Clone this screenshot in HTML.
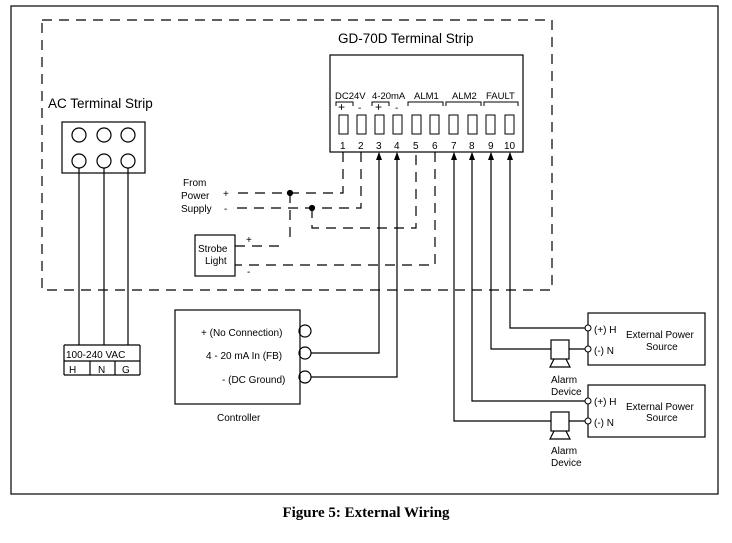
<!DOCTYPE html>
<html><head><style>body{margin:0;background:#fff}svg{display:block}</style></head><body>
<svg width="732" height="543" viewBox="0 0 732 543" xmlns="http://www.w3.org/2000/svg" font-family="Liberation Sans, sans-serif" fill="none" stroke="#000" stroke-width="1.2">
<rect x="11" y="6" width="707" height="488"/>
<rect x="42" y="20" width="510" height="270" stroke-dasharray="10,7"/>
<g fill="#000" stroke="none">
<text x="338" y="43" font-size="13.5">GD-70D Terminal Strip</text>
<text x="48" y="108" font-size="13.5">AC Terminal Strip</text>
<g font-size="10">
<text x="335" y="99" font-size="9.5">DC24V</text><text x="372" y="99" font-size="9.5">4-20mA</text><text x="414" y="99" font-size="9.5">ALM1</text><text x="452" y="99" font-size="9.5">ALM2</text><text x="486" y="99" font-size="9.5">FAULT</text>
<text x="338" y="111" font-size="12">+</text><text x="358" y="111">-</text><text x="375" y="111" font-size="12">+</text><text x="395" y="111">-</text>
<text x="340" y="149">1</text><text x="358" y="149">2</text><text x="376" y="149">3</text><text x="394" y="149">4</text><text x="413" y="149">5</text><text x="432" y="149">6</text><text x="451" y="149">7</text><text x="469" y="149">8</text><text x="488" y="149">9</text><text x="504" y="149">10</text>
<text x="183" y="186">From</text><text x="181" y="199">Power</text><text x="181" y="212">Supply</text>
<text x="223" y="197">+</text><text x="224" y="212">-</text>
<text x="198" y="252">Strobe</text><text x="205" y="264">Light</text>
<text x="246" y="243">+</text><text x="247" y="275">-</text>
<text x="201" y="336">+ (No Connection)</text><text x="206" y="359">4 - 20 mA In (FB)</text><text x="222" y="383">- (DC Ground)</text>
<text x="217" y="421">Controller</text>
<text x="66" y="358">100-240 VAC</text><text x="69" y="373">H</text><text x="98" y="373">N</text><text x="122" y="373">G</text>
<text x="594" y="333">(+) H</text><text x="594" y="354">(-) N</text><text x="626" y="338">External Power</text><text x="646" y="350">Source</text>
<text x="594" y="405">(+) H</text><text x="594" y="426">(-) N</text><text x="626" y="410">External Power</text><text x="646" y="421">Source</text>
<text x="551" y="383">Alarm</text><text x="551" y="395">Device</text>
<text x="551" y="454">Alarm</text><text x="551" y="466">Device</text>
</g>
<text x="366" y="517" font-size="15" font-weight="bold" font-family="Liberation Serif, serif" text-anchor="middle">Figure 5:  External Wiring</text>
</g>
<rect x="330" y="55" width="193" height="97"/>
<g stroke-width="1">
<path d="M336 106v-4h17v4M372 106v-4h17v4M408 106v-4h35v4M446 106v-4h35v4M484 106v-4h34v4"/>
<rect x="339" y="115" width="9" height="19"/>
<rect x="357" y="115" width="9" height="19"/><rect x="375" y="115" width="9" height="19"/><rect x="393" y="115" width="9" height="19"/><rect x="412" y="115" width="9" height="19"/><rect x="430" y="115" width="9" height="19"/><rect x="449" y="115" width="9" height="19"/><rect x="468" y="115" width="9" height="19"/><rect x="486" y="115" width="9" height="19"/><rect x="505" y="115" width="9" height="19"/>
</g>
<rect x="62" y="122" width="83" height="51"/>
<g><circle cx="79" cy="135" r="7"/><circle cx="104" cy="135" r="7"/><circle cx="128" cy="135" r="7"/><circle cx="79" cy="161" r="7"/><circle cx="104" cy="161" r="7"/><circle cx="128" cy="161" r="7"/></g>
<path d="M79 168v177M104 168v177M128 168v177"/>
<path d="M64 345h76M64 361h76M64 375h76M64 345v30M90 361v14M115 361v14M140 345v30"/>
<g stroke-dasharray="10,7">
<path d="M343 152v41h-110M361 152v56h-128M290 193v50M312 208v20h104v-76M435 152v113h-200M235 246h47"/>
</g>
<circle cx="290" cy="193" r="2.5" fill="#000"/><circle cx="312" cy="208" r="2.5" fill="#000"/>
<rect x="195" y="235" width="40" height="41"/>
<rect x="175" y="310" width="125" height="94"/>
<circle cx="305" cy="331" r="6"/><circle cx="305" cy="353" r="6"/><circle cx="305" cy="377" r="6"/>
<path d="M311 353h68V153M311 377h86V153M454 153v268h97M472 153v248h116M491 153v196h60M510 153v175h78M569 349h19M569 421h19"/>
<g fill="#000" stroke="none"><path d="M379 152l-3 8h6zM397 152l-3 8h6zM454 152l-3 8h6zM472 152l-3 8h6zM491 152l-3 8h6zM510 152l-3 8h6z"/></g>
<rect x="551" y="340" width="18" height="19"/><path d="M554 359l-4 8h20l-4-8"/>
<rect x="551" y="412" width="18" height="19"/><path d="M554 431l-4 8h20l-4-8"/>
<rect x="588" y="313" width="117" height="52"/><rect x="588" y="385" width="117" height="52"/>
<g fill="#fff" stroke-width="1"><circle cx="588" cy="328" r="3"/><circle cx="588" cy="349" r="3"/><circle cx="588" cy="401" r="3"/><circle cx="588" cy="421" r="3"/></g>
</svg>
</body></html>
